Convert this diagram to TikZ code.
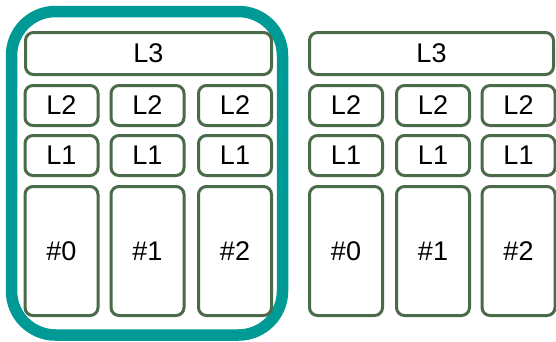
\documentclass[tikz,border=0pt]{standalone}
\usepackage{fontspec}
\setmainfont{Liberation Sans}
\definecolor{boxgreen}{HTML}{4A6A4A}
\definecolor{tealc}{HTML}{009A96}
\begin{document}
\begin{tikzpicture}[x=1pt,y=-1pt,
  cell/.style={draw=boxgreen, line width=3pt, rounded corners=8pt, inner sep=0pt, fill=white, font=\fontsize{27}{30}\selectfont, text=black},
  small/.style={cell, minimum width=73pt, minimum height=40pt},
  big/.style={cell, minimum width=73pt, minimum height=129pt},
  groupbox/.style={draw=tealc, line width=11.5pt, rounded corners=44pt}]
\useasboundingbox[fill=white] (0,0) rectangle (556,341);
\draw[groupbox] (11.5,11.5) rectangle (282.5,335);
% left group
\node[cell, minimum width=246pt, minimum height=42pt] (aL3) at (148.5,53.5) {L3};
\node[small] (aL2a) at (61.5,105.5) {L2};
\node[small] (aL2b) at (147.5,105.5) {L2};
\node[small] (aL2c) at (235,105.5) {L2};
\node[small] (aL1a) at (61.5,155.5) {L1};
\node[small] (aL1b) at (147.5,155.5) {L1};
\node[small] (aL1c) at (235,155.5) {L1};
\node[big] (aC0) at (61.5,251) {\#0};
\node[big] (aC1) at (147.5,251) {\#1};
\node[big] (aC2) at (235,251) {\#2};
% right group
\node[cell, minimum width=244pt, minimum height=42pt] (bL3) at (431.5,53.5) {L3};
\node[small] (bL2a) at (346,105.5) {L2};
\node[small] (bL2b) at (433,105.5) {L2};
\node[small] (bL2c) at (518.5,105.5) {L2};
\node[small] (bL1a) at (346,155.5) {L1};
\node[small] (bL1b) at (433,155.5) {L1};
\node[small] (bL1c) at (518.5,155.5) {L1};
\node[big] (bC0) at (346,251) {\#0};
\node[big] (bC1) at (433,251) {\#1};
\node[big] (bC2) at (518.5,251) {\#2};
\end{tikzpicture}
\end{document}
